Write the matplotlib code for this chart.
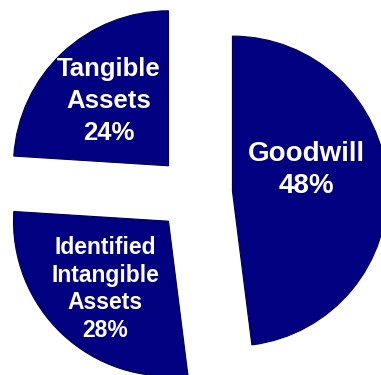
import matplotlib
matplotlib.use("Agg")
import matplotlib.pyplot as plt

# Purchase price allocation
categories = ["Goodwill", "Identified\nIntangible\nAssets", "Tangible\nAssets"]
shares = [48, 28, 24]

W, H = 381, 375
fig = plt.figure(figsize=(W / 100, H / 100), dpi=100)
ax = fig.add_axes([0, 0, 1, 1])

# pie geometry in pixel units of the canvas
cx, cy, R, gap = 194.5, 193.5, 155.0, 38.0


def to_data(px, py):
    return (px - cx) / R, (cy - py) / R


wedges, _ = ax.pie(
    shares,
    startangle=90,
    counterclock=False,
    radius=1.0,
    explode=[gap / R] * len(shares),
    colors=["#000080"] * len(shares),
    wedgeprops=dict(edgecolor="#00005a", linewidth=0.8),
)

x0, y0 = to_data(0, H)
x1, y1 = to_data(W, 0)
ax.set_xlim(x0, x1)
ax.set_ylim(y0, y1)
ax.set_aspect("equal", adjustable="box")
ax.axis("off")

# label placement (pixel centre, font size, line spacing)
label_layout = [
    ((306, 170), 20, 1.3),
    ((105, 289), 16.5, 1.25),
    ((109, 101), 18.5, 1.42),
]

for cat, share, (pos, fs, ls) in zip(categories, shares, label_layout):
    lx, ly = to_data(*pos)
    ax.text(lx, ly, f"{cat}\n{share}%", ha="center", va="center",
            multialignment="center", color="white", fontsize=fs,
            fontweight="bold", family="Liberation Sans", linespacing=ls)

fig.savefig("out.png", dpi=100)
